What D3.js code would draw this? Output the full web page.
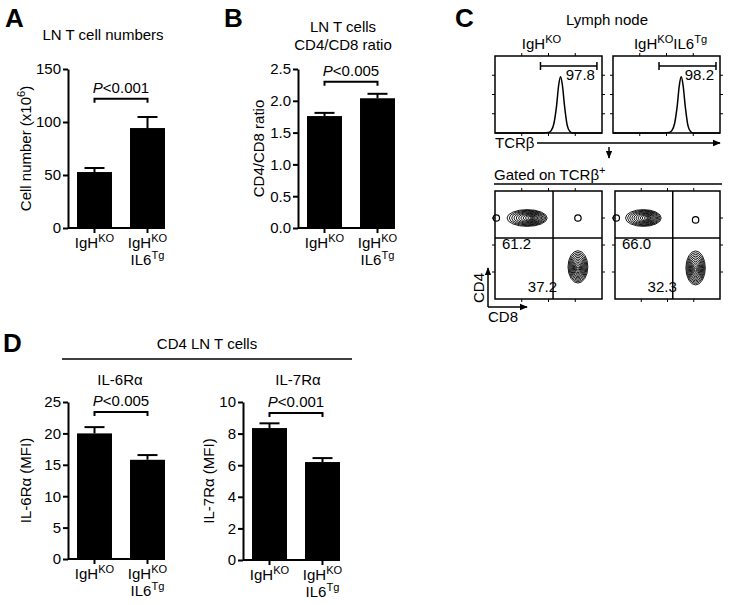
<!DOCTYPE html>
<html>
<head>
<meta charset="utf-8">
<script src="https://cdn.jsdelivr.net/npm/d3@7"></script>
<style>
  body { margin: 0; background: #fff; }
  text { font-family: "Liberation Sans", Arial, sans-serif; fill: #000; }
</style>
</head>
<body>
<svg id="fig" width="729" height="605"></svg>
<script>
// ---- values ----
const groups = ["IgH^{KO}", "IgH^{KO}|IL6^{Tg}"];
const cellNumber = [52.8, 94.3];
const cellNumberErr = [3.8, 10.4];
const cd4cd8Ratio = [1.76, 2.04];
const cd4cd8Err = [0.05, 0.07];
const il6ra = [20.0, 15.8];
const il6raErr = [1.0, 0.75];
const il7ra = [8.35, 6.2];
const il7raErr = [0.3, 0.25];
const ticksCells = [0, 50, 100, 150];
const ticksRatio = [0, 0.5, 1.0, 1.5, 2.0, 2.5];
const ticksIl6 = [0, 5, 10, 15, 20, 25];
const ticksIl7 = [0, 2, 4, 6, 8, 10];
const pLabels = ["<0.001", "<0.005", "<0.005", "<0.001"];

// panel C (flow), log axes in decades
const flowSamples = ["IgH^{KO}", "IgH^{KO}IL6^{Tg}"];
const decadeTicks = [1, 2, 3];
const countTicks = [25, 50, 75];
const tcrbGate = [[1.7, 3.81], [1.72, 3.85]];
const tcrbPct = ["97.8", "98.2"];
const histKO = [[0, 0], [1.8, 0], [2.0, 0.5], [2.1, 3], [2.2, 12], [2.3, 35], [2.38, 62], [2.45, 73],
  [2.52, 62], [2.6, 35], [2.7, 10], [2.8, 2], [2.9, 0], [4, 0]];
const histTg = [[0, 0], [1.9, 0], [2.1, 0.5], [2.2, 3], [2.3, 12], [2.4, 35], [2.48, 62], [2.55, 73],
  [2.62, 62], [2.7, 35], [2.8, 10], [2.9, 2], [3.0, 0], [4, 0]];
const quadGate = [[2.17, 2.26], [2.2, 2.26]]; // [CD8, CD4]
const cd4Pct = ["61.2", "66.0"];
const cd8Pct = ["37.2", "32.3"];
// populations: centre, hot spot, radii (decades)
const cd4Pop = [{ x: 1.2, y: 3.0, hx: 1.4, hy: 3.0, rx: 0.75, ry: 0.31 },
                { x: 1.08, y: 3.0, hx: 1.28, hy: 3.0, rx: 0.68, ry: 0.31 }];
const cd8Pop = [{ x: 3.1, y: 1.19, hx: 3.1, hy: 1.12, rx: 0.37, ry: 0.6 },
                { x: 3.07, y: 1.15, hx: 3.07, hy: 1.08, rx: 0.37, ry: 0.63 }];
const dpDot = [[3.1, 3.0], [3.07, 2.93]];
const edgeDot = [[0.05, 3.0], [0.05, 3.0]];

const svg = d3.select("#fig");
const FS = 15;

// text with ^{...} superscripts
function rich(sel, str, size) {
  const parts = str.split(/\^\{([^}]*)\}/);
  let up = false;
  parts.forEach((p, i) => {
    if (p === "") return;
    const t = sel.append("tspan").text(p);
    if (i % 2 === 1) {
      t.attr("font-size", size * 0.74).attr("dy", up ? 0 : -size * 0.4);
      up = true;
    } else {
      if (up) t.attr("dy", size * 0.4);
      up = false;
    }
  });
  return sel;
}

function label(x, y, str, opts = {}) {
  const size = opts.size || FS;
  const t = svg.append("text")
    .attr("x", x).attr("y", y)
    .attr("font-size", size)
    .attr("text-anchor", opts.anchor || "start")
    .attr("font-weight", opts.bold ? "bold" : null);
  if (opts.rotate) t.attr("transform", `rotate(-90,${x},${y})`);
  return rich(t, str, size);
}

function styleAxis(g) {
  g.selectAll("path, line").attr("stroke", "#000").attr("stroke-width", 2);
  g.selectAll("text").attr("font-size", FS).attr("fill", "#000")
    .attr("font-family", '"Liberation Sans", Arial, sans-serif');
}

// ---- bar panels ----
function barPanel(cfg) {
  const y = d3.scaleLinear().domain([0, d3.max(cfg.ticks)]).range([cfg.bottom, cfg.top]);
  const x = d3.scaleBand().domain(groups).range([cfg.left, cfg.left + 106])
    .paddingInner(0.34).paddingOuter(0.17);
  const g = svg.append("g");
  const bw = x.bandwidth();
  const cx = (i) => x(groups[i]) + bw / 2;

  g.selectAll("rect.bar").data(cfg.values).join("rect")
    .attr("x", (d, i) => x(groups[i]))
    .attr("y", d => y(d))
    .attr("width", bw)
    .attr("height", d => y(0) - y(d))
    .attr("fill", "#000");

  // upward error bars with caps
  cfg.values.forEach((v, i) => {
    g.append("line").attr("x1", cx(i)).attr("x2", cx(i))
      .attr("y1", y(v)).attr("y2", y(v + cfg.err[i])).attr("stroke", "#000").attr("stroke-width", 2);
    g.append("line").attr("x1", cx(i) - 10).attr("x2", cx(i) + 10)
      .attr("y1", y(v + cfg.err[i])).attr("y2", y(v + cfg.err[i])).attr("stroke", "#000").attr("stroke-width", 2);
  });

  g.append("g").attr("transform", `translate(${cfg.left},0)`)
    .call(d3.axisLeft(y).tickValues(cfg.ticks).tickSize(5).tickSizeOuter(0).tickPadding(2).tickFormat(cfg.fmt))
    .call(styleAxis);

  const xAxis = g.append("g").attr("transform", `translate(0,${cfg.bottom})`)
    .call(d3.axisBottom(x).tickSize(5).tickSizeOuter(0).tickFormat(""))
    .call(styleAxis);
  xAxis.select(".domain").attr("d", `M${cfg.left},0H${x(groups[1]) + bw}`);

  groups.forEach((name, i) => {
    name.split("|").forEach((line, k) => {
      label(cx(i), cfg.bottom + 20 + k * 17, line, { anchor: "middle" });
    });
  });

  // significance bracket
  const by = y(cfg.bracket);
  g.append("path")
    .attr("d", `M${cx(0)},${by + 4}V${by}H${cx(1)}V${by + 4}`)
    .attr("fill", "none").attr("stroke", "#000").attr("stroke-width", 2);
  const pt = svg.append("text").attr("x", (cx(0) + cx(1)) / 2).attr("y", by - 6)
    .attr("text-anchor", "middle").attr("font-size", FS);
  pt.append("tspan").attr("font-style", "italic").text("P");
  pt.append("tspan").text(cfg.p);

  label(cfg.yLabelX, (cfg.top + cfg.bottom) / 2, cfg.yLabel, { anchor: "middle", rotate: true });
  cfg.title.forEach((t, k) => label(cfg.titleX, cfg.titleY + k * 18, t, { anchor: "middle" }));
}

barPanel({ left: 68, top: 69, bottom: 228, values: cellNumber, err: cellNumberErr, ticks: ticksCells,
  fmt: d3.format("d"), bracket: 122, p: pLabels[0], yLabel: "Cell number (x10^{6})", yLabelX: 31,
  title: ["LN T cell numbers"], titleX: 103, titleY: 40 });
barPanel({ left: 298, top: 69, bottom: 228, values: cd4cd8Ratio, err: cd4cd8Err, ticks: ticksRatio,
  fmt: d3.format(".1f"), bracket: 2.3, p: pLabels[1], yLabel: "CD4/CD8 ratio", yLabelX: 264,
  title: ["LN T cells", "CD4/CD8 ratio"], titleX: 343, titleY: 32 });
barPanel({ left: 68, top: 402, bottom: 559, values: il6ra, err: il6raErr, ticks: ticksIl6,
  fmt: d3.format("d"), bracket: 23.4, p: pLabels[2], yLabel: "IL-6Rα (MFI)", yLabelX: 31,
  title: ["IL-6Rα"], titleX: 120, titleY: 385 });
barPanel({ left: 243, top: 402, bottom: 560, values: il7ra, err: il7raErr, ticks: ticksIl7,
  fmt: d3.format("d"), bracket: 9.3, p: pLabels[3], yLabel: "IL-7Rα (MFI)", yLabelX: 214,
  title: ["IL-7Rα"], titleX: 298, titleY: 385 });

// panel letters
label(5, 27, "A", { size: 26, bold: true });
label(224, 27, "B", { size: 26, bold: true });
label(455, 27, "C", { size: 26, bold: true });
label(3, 352, "D", { size: 26, bold: true });

// D header
label(207, 349, "CD4 LN T cells", { anchor: "middle" });
svg.append("line").attr("x1", 62).attr("x2", 352).attr("y1", 359).attr("y2", 359)
  .attr("stroke", "#000").attr("stroke-width", 1.5);

// ---- panel C ----
svg.append("defs").append("marker").attr("id", "arr")
  .attr("viewBox", "0 0 10 10").attr("refX", 9).attr("refY", 5)
  .attr("markerWidth", 5.5).attr("markerHeight", 5.5).attr("orient", "auto")
  .append("path").attr("d", "M0,1L10,5L0,9Z").attr("fill", "#000");

const boxLeft = [495, 613];
const boxW = 107;

function frame(g, x, y, xt, yt) {
  const [x0, x1] = x.range(), [y0, y1] = y.range();
  g.append("rect").attr("x", x0).attr("y", y1).attr("width", x1 - x0).attr("height", y0 - y1)
    .attr("fill", "none").attr("stroke", "#000").attr("stroke-width", 1.5);
  xt.forEach(t => {
    g.append("line").attr("x1", x(t)).attr("x2", x(t)).attr("y1", y1).attr("y2", y1 - 3).attr("stroke", "#000");
    g.append("line").attr("x1", x(t)).attr("x2", x(t)).attr("y1", y0).attr("y2", y0 + 3).attr("stroke", "#000");
  });
  yt.forEach(t => {
    g.append("line").attr("y1", y(t)).attr("y2", y(t)).attr("x1", x0).attr("x2", x0 - 3).attr("stroke", "#000");
    g.append("line").attr("y1", y(t)).attr("y2", y(t)).attr("x1", x1).attr("x2", x1 + 3).attr("stroke", "#000");
  });
}

label(607, 25, "Lymph node", { anchor: "middle" });
const hists = [histKO, histTg];
flowSamples.forEach((s, i) => {
  label(boxLeft[i] + boxW / 2 + (i === 0 ? -7 : 4), 49, s, { anchor: "middle" });
  const x = d3.scaleLinear().domain([0, 4]).range([boxLeft[i], boxLeft[i] + boxW]);
  const y = d3.scaleLinear().domain([0, 100]).range([133, 56]);
  const g = svg.append("g");
  frame(g, x, y, decadeTicks, countTicks);
  g.append("path").datum(hists[i])
    .attr("d", d3.line().x(d => x(d[0])).y(d => y(d[1])).curve(d3.curveMonotoneX))
    .attr("fill", "none").attr("stroke", "#000").attr("stroke-width", 1.5);
  const gy = y(87);
  const [ga, gb] = tcrbGate[i];
  g.append("path").attr("d", `M${x(ga)},${gy - 4}V${gy + 4}M${x(ga)},${gy}H${x(gb)}M${x(gb)},${gy - 4}V${gy + 4}`)
    .attr("stroke", "#000").attr("stroke-width", 1.5).attr("fill", "none");
  label(x(gb) - 2, 80, tcrbPct[i], { anchor: "end" });
});

label(495, 148, "TCRβ");
svg.append("line").attr("x1", 537).attr("x2", 720).attr("y1", 143).attr("y2", 143)
  .attr("stroke", "#000").attr("stroke-width", 1.5).attr("marker-end", "url(#arr)");
svg.append("line").attr("x1", 609).attr("x2", 609).attr("y1", 147).attr("y2", 158)
  .attr("stroke", "#000").attr("stroke-width", 1.5).attr("marker-end", "url(#arr)");

label(494, 180, "Gated on TCRβ^{+}");
svg.append("line").attr("x1", 494).attr("x2", 722).attr("y1", 184).attr("y2", 184)
  .attr("stroke", "#000").attr("stroke-width", 1.5);

function rings(g, x, y, p, n) {
  for (let k = 0; k < n; k++) {
    const s = 1 - k / n;
    const cx = p.x + (p.hx - p.x) * (1 - s), cy = p.y + (p.hy - p.y) * (1 - s);
    const rx = Math.abs(x(p.x + p.rx * s) - x(p.x));
    const ry = Math.abs(y(p.y + p.ry * s) - y(p.y));
    g.append("ellipse").attr("cx", x(cx)).attr("cy", y(cy)).attr("rx", rx).attr("ry", ry)
      .attr("fill", "none").attr("stroke", "#000").attr("stroke-width", 0.9);
  }
}

[0, 1].forEach(i => {
  const x = d3.scaleLinear().domain([0, 4]).range([boxLeft[i] + (i ? 2 : 0), boxLeft[i] + boxW]);
  const y = d3.scaleLinear().domain([0, 4]).range([299, 191]);
  const g = svg.append("g");
  frame(g, x, y, decadeTicks, decadeTicks);
  const [vx, hy] = quadGate[i];
  g.append("line").attr("x1", x(vx)).attr("x2", x(vx)).attr("y1", 191).attr("y2", 299)
    .attr("stroke", "#000").attr("stroke-width", 1.5);
  g.append("line").attr("x1", x(0)).attr("x2", x(4)).attr("y1", y(hy)).attr("y2", y(hy))
    .attr("stroke", "#000").attr("stroke-width", 1.5);
  rings(g, x, y, cd4Pop[i], 11);
  rings(g, x, y, cd8Pop[i], 11);
  [dpDot[i], edgeDot[i]].forEach(d => {
    g.append("circle").attr("cx", x(d[0])).attr("cy", y(d[1])).attr("r", 3.2)
      .attr("fill", "none").attr("stroke", "#000").attr("stroke-width", 1.2);
  });
  label(x(0) + 7, y(hy) + 11, cd4Pct[i]);
  label(x(vx) + 4, 292, cd8Pct[i], { anchor: "end" });
});

// CD4 / CD8 axis arrows
svg.append("line").attr("x1", 488).attr("x2", 488).attr("y1", 307).attr("y2", 268)
  .attr("stroke", "#000").attr("stroke-width", 1.5).attr("marker-end", "url(#arr)");
svg.append("line").attr("x1", 488).attr("x2", 527).attr("y1", 307).attr("y2", 307)
  .attr("stroke", "#000").attr("stroke-width", 1.5).attr("marker-end", "url(#arr)");
label(484, 288, "CD4", { anchor: "middle", rotate: true });
label(503, 322, "CD8", { anchor: "middle" });
</script>
</body>
</html>
